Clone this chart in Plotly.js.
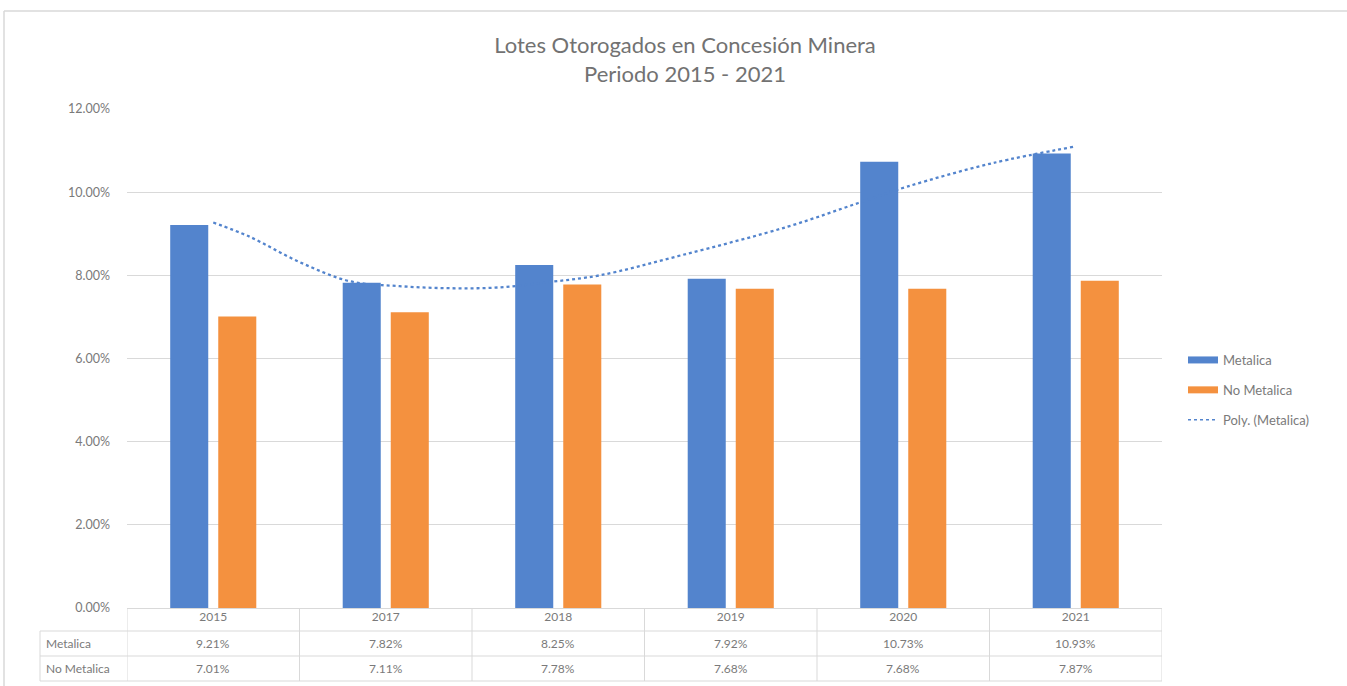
<!DOCTYPE html>
<html>
<head>
<meta charset="utf-8">
<script src="https://cdn.plot.ly/plotly-3.0.1.min.js"></script>
<style>html,body{margin:0;padding:0;background:#fff;}#chart{width:1347px;height:686px;}</style>
</head>
<body>
<div id="chart"></div>
<script>
const years = ["2015", "2017", "2018", "2019", "2020", "2021"];
const metalica = [9.21, 7.82, 8.25, 7.92, 10.73, 10.93];
const noMetalica = [7.01, 7.11, 7.78, 7.68, 7.68, 7.87];
// polynomial trendline (Metalica), x in category index units
const trendX = [0, 0.21, 0.5, 0.79, 1.08, 1.37, 1.66, 1.95, 2.24, 2.72, 3.33, 3.74, 4.02, 4.52, 5.0];
const trendY = [9.27, 8.93, 8.32, 7.86, 7.74, 7.69, 7.71, 7.84, 8.0, 8.49, 9.17, 9.74, 10.13, 10.70, 11.10];
const rowLabels = ["Metalica", "No Metalica"];

const BLUE = "#5384CD", ORANGE = "#F4913F", GRID = "#d9d9d9", TXT = "#7a7a7a";
const FONT = "Lato, 'Open Sans', sans-serif";

const idx = years.map((_, i) => i);
const W = 1347, H = 686;
const L = 127, R = 1162, T = 109, B = 608;
const pw = R - L, ph = B - T;
const py = p => (B - p) / ph;      // pixel y -> paper y
const px = p => (p - L) / pw;      // pixel x -> paper x

const traces = [
  {type: "bar", x: idx, y: metalica, name: "Metalica", marker: {color: BLUE}, showlegend: false, hoverinfo: "y"},
  {type: "bar", x: idx, y: noMetalica, name: "No Metalica", marker: {color: ORANGE}, showlegend: false, hoverinfo: "y"},
  {type: "scatter", mode: "lines", x: trendX, y: trendY, name: "Poly. (Metalica)", line: {color: BLUE, width: 2.3, dash: "dot", shape: "spline"}, showlegend: false, hoverinfo: "skip"},
  // legend entries
  {type: "scatter", mode: "lines", x: [null], y: [null], name: "Metalica", line: {color: BLUE, width: 7}, legendgroup: "a"},
  {type: "scatter", mode: "lines", x: [null], y: [null], name: "No Metalica", line: {color: ORANGE, width: 7}, legendgroup: "b"},
  {type: "scatter", mode: "lines", x: [null], y: [null], name: "Poly. (Metalica)", line: {color: BLUE, width: 1.5, dash: "dot"}, legendgroup: "c"}
];

const shapes = [];
const lineStyle = {color: GRID, width: 1};
const yHead = py(631), yRow1 = py(656), yRow2 = py(681);
// vertical boundaries of table columns
for (let i = 0; i <= years.length; i++) {
  shapes.push({type: "line", xref: "x", yref: "paper", x0: i - 0.5, x1: i - 0.5, y0: 0, y1: yRow2, line: lineStyle});
}
// left border of row labels
shapes.push({type: "line", xref: "paper", yref: "paper", x0: px(40), x1: px(40), y0: yHead, y1: yRow2, line: lineStyle});
// horizontal rows
[yHead, yRow1, yRow2].forEach(y => shapes.push({type: "line", xref: "paper", yref: "paper", x0: px(40), x1: 1, y0: y, y1: y, line: lineStyle}));
// chart area border (top and left edges visible)
shapes.push({type: "line", xref: "paper", yref: "paper", x0: px(4), x1: px(1400), y0: py(11), y1: py(11), line: {color: "#d9d9d9", width: 1.5}});
shapes.push({type: "line", xref: "paper", yref: "paper", x0: px(4), x1: px(4), y0: py(11), y1: py(700), line: {color: "#d9d9d9", width: 1.5}});

const annotations = [];
const rowsY = [py(643.5), py(668.5)];
[metalica, noMetalica].forEach((arr, r) => {
  annotations.push({xref: "paper", yref: "paper", x: px(44), y: rowsY[r], xanchor: "left", yanchor: "middle", text: rowLabels[r], showarrow: false, font: {family: FONT, size: 12, color: TXT}});
  arr.forEach((v, i) => annotations.push({xref: "x", yref: "paper", x: i, y: rowsY[r], xanchor: "center", yanchor: "middle", text: v.toFixed(2) + "%", showarrow: false, font: {family: FONT, size: 12, color: TXT}}));
});

const layout = {
  width: W, height: H,
  margin: {l: L, r: W - R, t: T, b: H - B, pad: 0},
  paper_bgcolor: "#fff", plot_bgcolor: "#fff",
  font: {family: FONT, color: TXT, size: 12},
  title: {
    text: "Lotes Otorogados en Concesión Minera<br>Periodo 2015 - 2021",
    xref: "container", yref: "container", x: 685 / W, y: 1 - 53 / H, xanchor: "center", yanchor: "middle",
    font: {family: FONT, size: 22, color: "#727272"}
  },
  barmode: "group", bargap: 0.443, bargroupgap: 0.208,
  xaxis: {
    type: "linear", range: [-0.5, 5.5], tickvals: idx, ticktext: years,
    showgrid: false, zeroline: false, showline: false, ticks: "", ticklabelstandoff: 0,
    tickfont: {family: FONT, size: 12, color: TXT}, fixedrange: true
  },
  yaxis: {
    range: [0, 12], dtick: 2, tick0: 0, tickformat: ".2f", ticksuffix: "%",
    showgrid: true, gridcolor: GRID, gridwidth: 1, zeroline: true, zerolinecolor: GRID, zerolinewidth: 1,
    showline: false, ticks: "", ticklabelstandoff: 16,
    tickfont: {family: FONT, size: 12.5, color: TXT}, fixedrange: true
  },
  legend: {
    x: px(1183), y: py(390), xanchor: "left", yanchor: "middle",
    font: {family: FONT, size: 13, color: TXT}, tracegroupgap: 10, bgcolor: "rgba(0,0,0,0)"
  },
  shapes: shapes,
  annotations: annotations
};

Plotly.newPlot("chart", traces, layout, {displayModeBar: false, staticPlot: true});
</script>
</body>
</html>
